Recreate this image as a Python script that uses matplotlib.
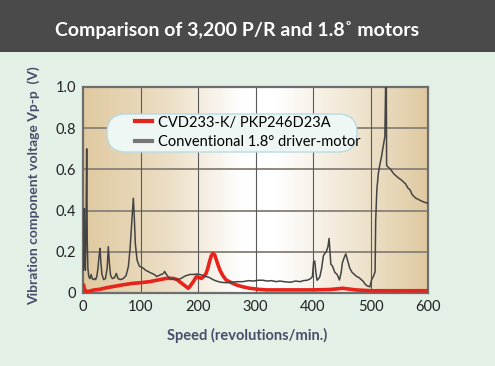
import numpy as np
import matplotlib.pyplot as plt
from matplotlib.colors import LinearSegmentedColormap
from matplotlib.patches import FancyBboxPatch

# gray curve: conventional 1.8 deg driver-motor
conv_rpm = [0.5, 1.5, 2.3, 3.2, 4.2, 5.2, 6.4, 7.4, 8.5, 10,
            12, 14, 16, 18, 20, 22, 24, 26, 28, 29.6,
            31, 33, 36, 39, 42, 44, 46, 48, 51, 55,
            58, 61, 65, 70, 75, 79, 82, 85, 87.5, 89,
            91, 94, 98, 102, 105, 109, 113, 116, 120, 124,
            128, 132, 136, 140, 142, 145, 148, 151, 157, 163,
            170, 176, 180, 186, 192, 197, 203, 209, 214, 220,
            226, 232, 240, 249, 258, 268, 278, 288, 296, 305,
            313, 320, 328, 336, 342, 350, 360, 370, 378, 383,
            390, 396, 399, 401, 403, 405, 407, 410, 412, 415,
            418, 420, 423, 426, 428, 430, 431, 434, 438, 442,
            446, 449, 451, 454, 457, 460, 464, 468, 472, 476,
            480, 484, 488, 490, 494, 499, 502, 505, 508, 509,
            511, 513.6, 516, 519, 522, 525, 526.5, 527.5, 528, 531,
            535, 540, 544, 548, 553, 557, 561, 565, 569, 572,
            575, 579, 583, 586, 590, 594, 597, 600]
conv_v = [0.11, 0.20, 0.41, 0.15, 0.11, 0.30, 0.70, 0.25, 0.12, 0.08,
          0.07, 0.09, 0.07, 0.065, 0.07, 0.065, 0.08, 0.12, 0.18, 0.217,
          0.15, 0.09, 0.065, 0.07, 0.12, 0.225, 0.14, 0.085, 0.07, 0.075,
          0.095, 0.07, 0.065, 0.07, 0.085, 0.13, 0.22, 0.35, 0.46, 0.38,
          0.24, 0.16, 0.13, 0.125, 0.12, 0.11, 0.105, 0.10, 0.095, 0.09,
          0.08, 0.085, 0.09, 0.095, 0.105, 0.09, 0.08, 0.071, 0.068, 0.064,
          0.07, 0.08, 0.085, 0.09, 0.09, 0.092, 0.09, 0.085, 0.08, 0.075,
          0.065, 0.058, 0.052, 0.05, 0.052, 0.055, 0.055, 0.06, 0.058, 0.062,
          0.062, 0.058, 0.06, 0.055, 0.058, 0.055, 0.052, 0.058, 0.055, 0.06,
          0.062, 0.07, 0.08, 0.15, 0.155, 0.10, 0.062, 0.07, 0.08, 0.12,
          0.18, 0.19, 0.20, 0.225, 0.265, 0.18, 0.14, 0.13, 0.10, 0.09,
          0.063, 0.10, 0.145, 0.17, 0.19, 0.16, 0.12, 0.10, 0.09, 0.08,
          0.075, 0.065, 0.055, 0.045, 0.035, 0.03, 0.065, 0.08, 0.103, 0.35,
          0.50, 0.58, 0.62, 0.66, 0.71, 0.76, 1.05, 1.05, 0.62, 0.61,
          0.60, 0.58, 0.57, 0.56, 0.55, 0.54, 0.53, 0.51, 0.50, 0.48,
          0.47, 0.46, 0.455, 0.45, 0.445, 0.44, 0.438, 0.436]

# red curve: CVD233-K / PKP246D23A
new_rpm = [0, 1, 2, 4, 6, 10, 15, 20, 29, 40,
           50, 58, 70, 87, 100, 116, 130, 145, 157, 163,
           168, 175, 183, 186, 189, 193, 197, 202, 206, 210,
           214, 217, 220, 223, 226, 229, 232, 235, 238, 243,
           249, 258, 267, 278, 290, 305, 319, 342, 370, 400,
           430, 445, 452, 460, 475, 500, 530, 560, 600]
new_v = [0.03, 0.04, 0.025, 0.012, 0.007, 0.008, 0.012, 0.015, 0.018, 0.025,
         0.03, 0.034, 0.04, 0.047, 0.05, 0.055, 0.063, 0.071, 0.071, 0.066,
         0.055, 0.04, 0.023, 0.032, 0.044, 0.06, 0.079, 0.075, 0.071, 0.08,
         0.095, 0.12, 0.152, 0.18, 0.192, 0.185, 0.16, 0.135, 0.112, 0.085,
         0.063, 0.05, 0.039, 0.03, 0.023, 0.018, 0.015, 0.015, 0.015, 0.015,
         0.017, 0.021, 0.023, 0.02, 0.015, 0.011, 0.011, 0.011, 0.011]

x_ticks = [0, 100, 200, 300, 400, 500, 600]
y_ticks = [0, 0.2, 0.4, 0.6, 0.8, 1.0]
y_tick_labels = ['0', '0.2', '0.4', '0.6', '0.8', '1.0']

label_color = '#4b4b6b'

fig = plt.figure(figsize=(4.95, 3.66), dpi=100)
fig.patch.set_facecolor('#e2f0e6')

# dark title band
fig.patches.append(plt.Rectangle((0, 1 - 52 / 366), 1, 52 / 366, transform=fig.transFigure,
                                 facecolor='#4a4a4a', edgecolor='none', zorder=0))
fig.text(0.478, 1 - 30 / 366, 'Comparison of 3,200 P/R and 1.8˚ motors', color='white',
         fontsize=14, fontweight='bold', family='Lato', ha='center', va='center')

ax = fig.add_axes([83 / 495, 73 / 366, 345 / 495, 206 / 366])

# horizontal tan-white-tan gradient background
bg = LinearSegmentedColormap.from_list('bg', [(0, '#dfc9a0'), (0.25, '#ecdfc6'),
                                              (0.46, '#ffffff'), (0.56, '#ffffff'),
                                              (0.8, '#efe4cf'), (1, '#dfc9a0')])
ax.imshow(np.linspace(0, 1, 256).reshape(1, -1), cmap=bg, aspect='auto',
          extent=[0, 1, 0, 1], transform=ax.transAxes, zorder=0)

for y in y_ticks[1:-1]:
    ax.axhline(y, color='#8f877c', lw=1.4, zorder=1)
for x in x_ticks[1:-1]:
    ax.axvline(x, color='#5a5a5a', lw=0.8, zorder=1)

ax.plot(new_rpm, new_v, color='#e8231c', lw=2.6, zorder=3,
        label='CVD233-K/ PKP246D23A')
ax.plot(conv_rpm, conv_v, color='#444444', lw=1.1, zorder=4,
        label='Conventional 1.8° driver-motor')

ax.set_xlim(0, 600)
ax.set_ylim(0, 1.0)
ax.set_xticks(x_ticks)
ax.set_yticks(y_ticks)
ax.set_yticklabels(y_tick_labels)
ax.tick_params(length=0, labelsize=10.5, colors='#222222', pad=5)
for lab in ax.get_xticklabels() + ax.get_yticklabels():
    lab.set_family('Lato')
for s in ax.spines.values():
    s.set_color('#6e6e6e')
    s.set_linewidth(1.6)

ax.set_xlabel('Speed (revolutions/min.)', fontsize=10.5, fontweight='bold',
              color=label_color, family='Lato', labelpad=10)
ax.xaxis.set_label_coords(0.475, -0.17)
ax.set_ylabel('Vibration component voltage Vp-p  (V)', fontsize=10, fontweight='bold',
              color=label_color, family='Lato')
ax.yaxis.set_label_coords(-0.125, 0.52)

# rounded legend box
box = FancyBboxPatch((1.07 + 0.19, 2.14 + 0.19), 2.50 - 0.38, 0.38 - 0.38,
                     boxstyle='round,pad=0.19', transform=fig.dpi_scale_trans,
                     facecolor='#eef7f4', edgecolor='#b8dbe6', lw=1.0,
                     zorder=5, clip_on=False)
ax.add_patch(box)

leg = ax.legend(loc='upper left', bbox_to_anchor=(1.35, 2.505),
                bbox_transform=fig.dpi_scale_trans,
                prop={'family': 'Lato', 'size': 10.5}, handlelength=1.15,
                handletextpad=0.45, labelspacing=0.36, borderpad=0,
                borderaxespad=0, frameon=False)
leg.set_zorder(6)
for h in leg.get_lines():
    h.set_linewidth(3)
leg.get_lines()[1].set_color('#777777')

fig.savefig('out.png', dpi=100, facecolor=fig.get_facecolor())
